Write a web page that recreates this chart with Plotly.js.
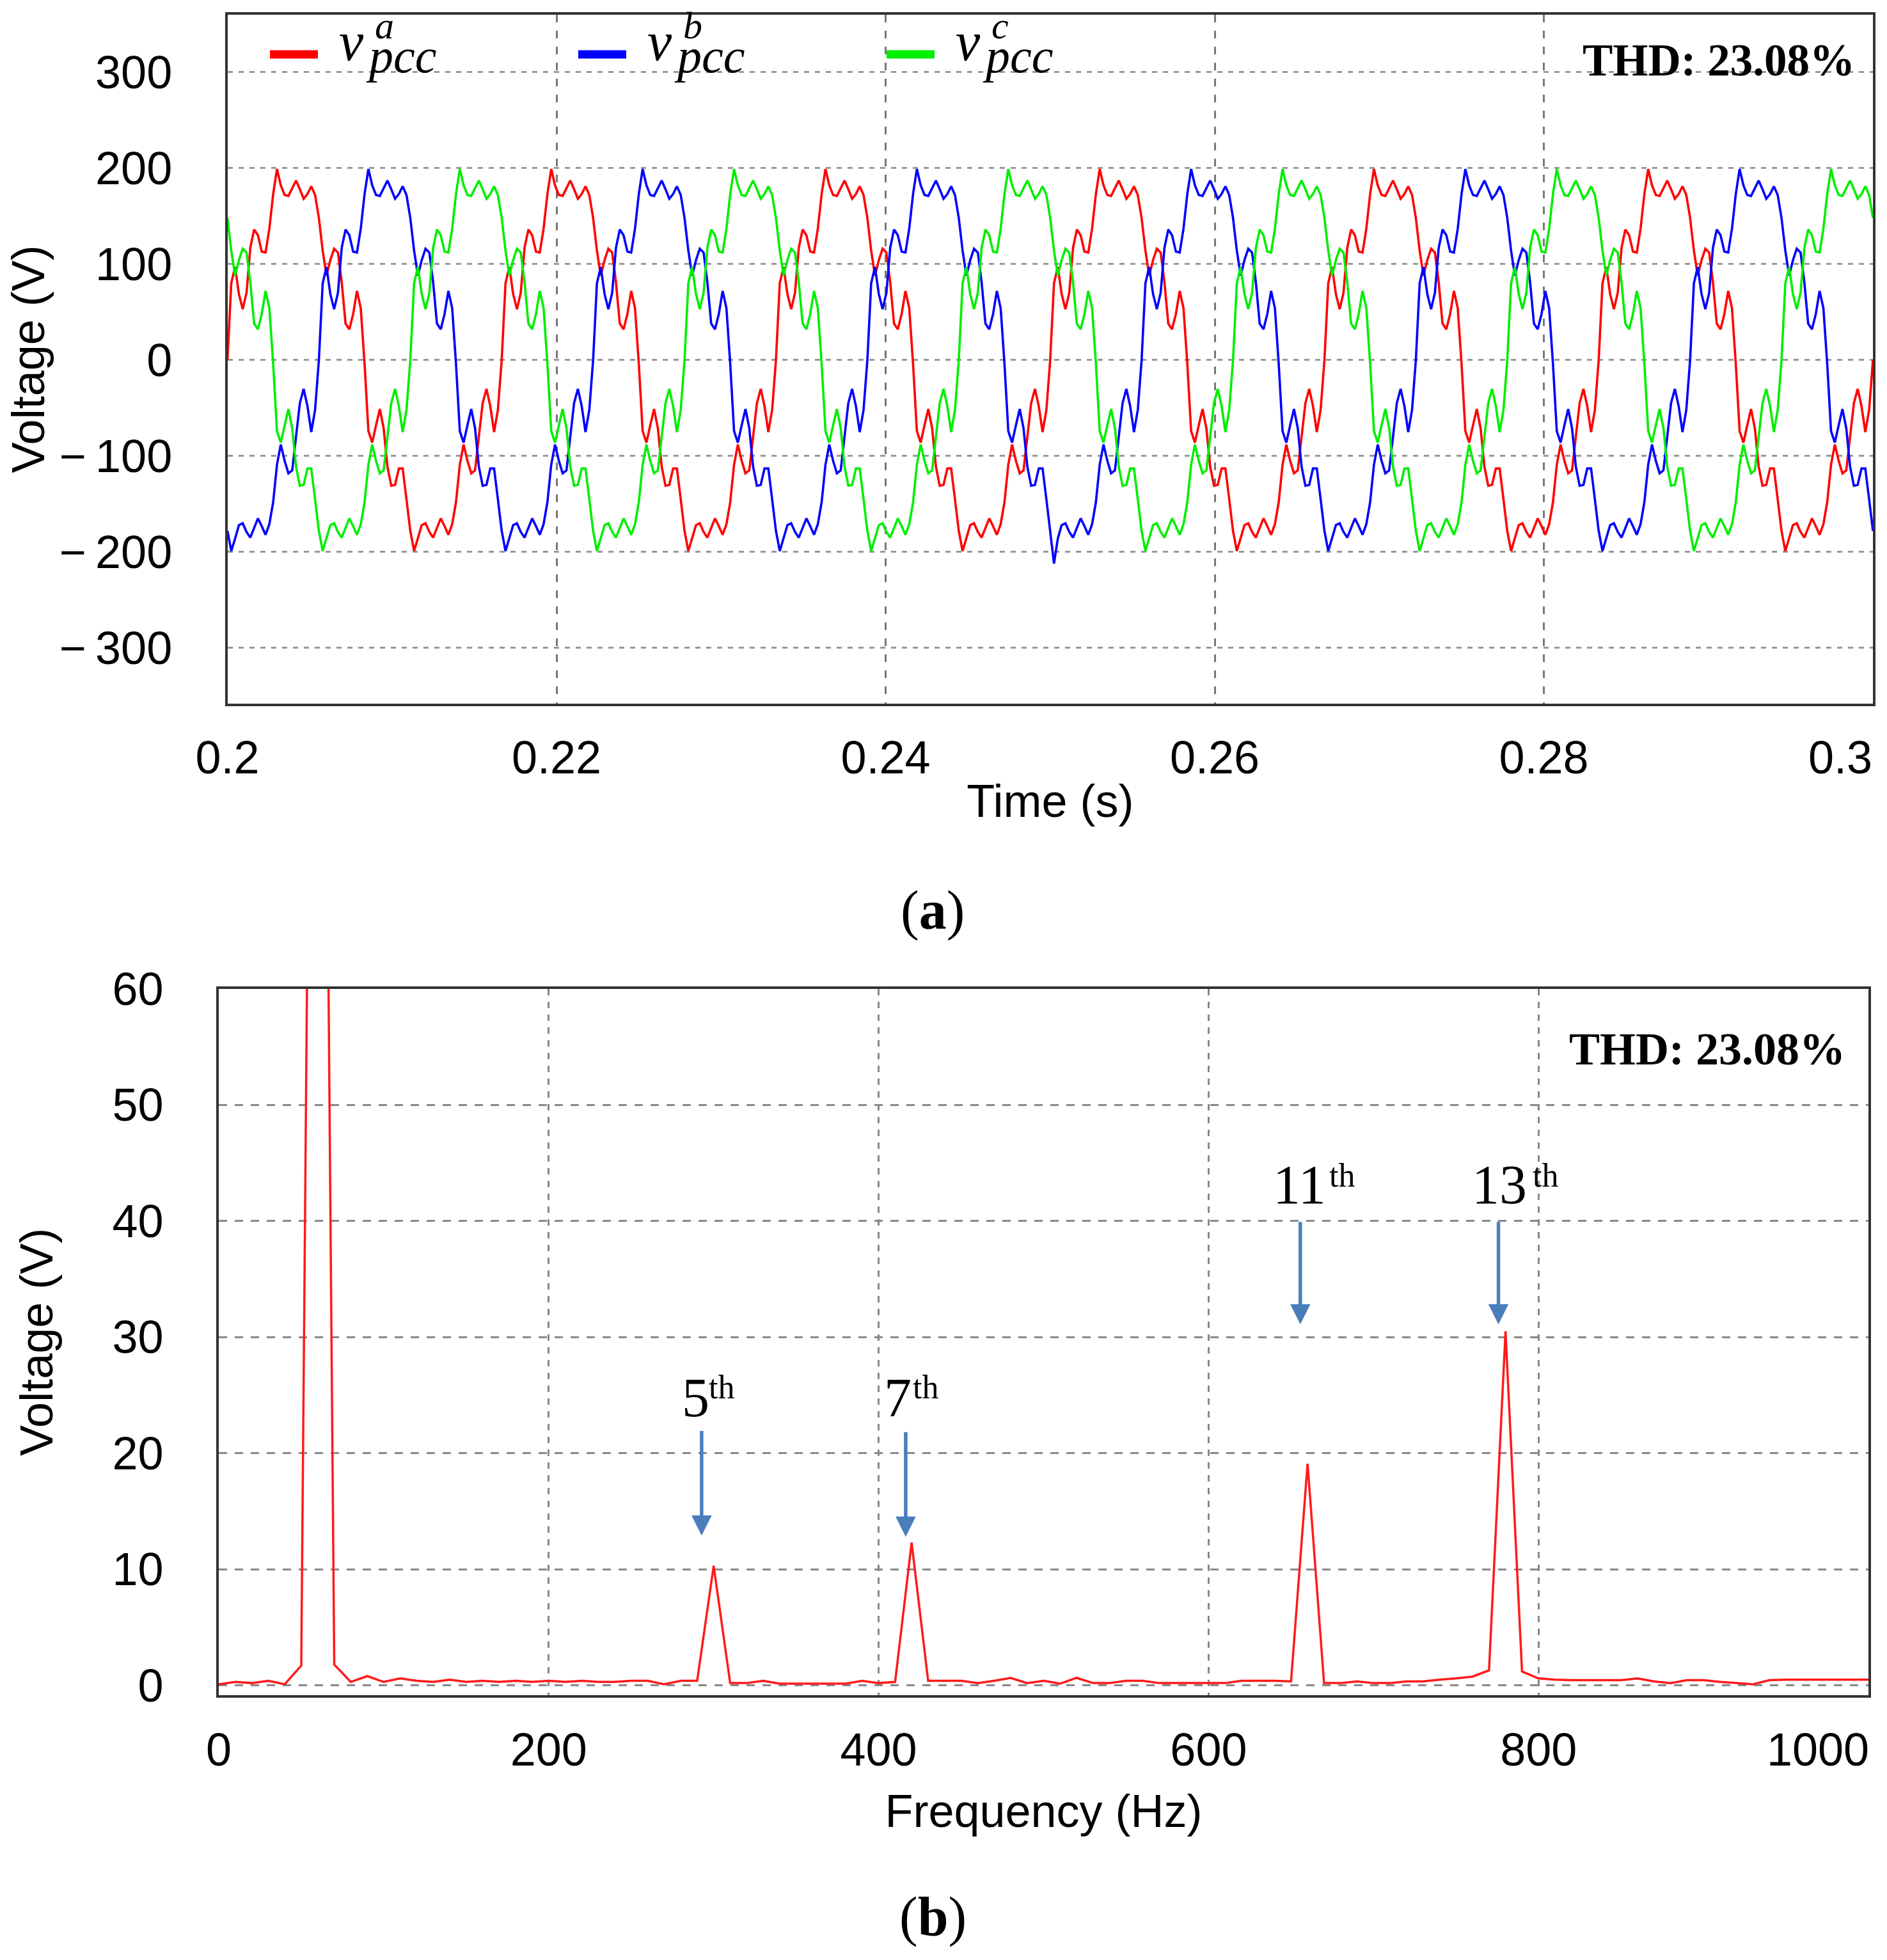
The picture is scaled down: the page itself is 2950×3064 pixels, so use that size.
<!DOCTYPE html>
<html>
<head>
<meta charset="utf-8">
<script src="https://cdn.plot.ly/plotly-3.0.1.min.js"></script>
<style>html,body{margin:0;padding:0;background:#fff}#chart{width:2950px;height:3064px}</style>
</head>
<body>
<div id="chart"></div>
<script>
// ---------------- data ----------------
// (a) PCC phase voltages, sampled every 1/4320 s from t = 0.2 s to 0.3 s
const timeStart = 0.2;
const timeStep = 1 / 4320;
const vpccA = [
0,80,97,69,53,70,117,136,130,113,112,137,173,199,182,172,171,179,187,178,168,173,181,172,148,114,88,104,116,112,81,38,32,48,72,54,-4,-74,-86,-68,-51,-71,-111,-131,-130,-113,-113,-145,-178,-199,-186,-172,-170,-179,-185,-175,-165,-173,-182,-171,-148,-109,-88,-105,-118,-115,-81,-45,-30,-48,-75,-52,
0,80,97,69,53,70,117,136,130,113,112,137,173,199,182,172,171,179,187,178,168,173,181,172,148,114,88,104,116,112,81,38,32,48,72,54,-4,-74,-86,-68,-51,-71,-111,-131,-130,-113,-113,-145,-178,-199,-186,-172,-170,-179,-185,-175,-165,-173,-182,-171,-148,-109,-88,-105,-118,-115,-81,-45,-30,-48,-75,-52,
0,80,97,69,53,70,117,136,130,113,112,137,173,199,182,172,171,179,187,178,168,173,181,172,148,114,88,104,116,112,81,38,32,48,72,54,-4,-74,-86,-68,-51,-71,-111,-131,-130,-113,-113,-145,-178,-199,-186,-172,-170,-179,-185,-175,-165,-173,-182,-171,-148,-109,-88,-105,-118,-115,-81,-45,-30,-48,-75,-52,
0,80,97,69,53,70,117,136,130,113,112,137,173,199,182,172,171,179,187,178,168,173,181,172,148,114,88,104,116,112,81,38,32,48,72,54,-4,-74,-86,-68,-51,-71,-111,-131,-130,-113,-113,-145,-178,-199,-186,-172,-170,-179,-185,-175,-165,-173,-182,-171,-148,-109,-88,-105,-118,-115,-81,-45,-30,-48,-75,-52,
0,80,97,69,53,70,117,136,130,113,112,137,173,199,182,172,171,179,187,178,168,173,181,172,148,114,88,104,116,112,81,38,32,48,72,54,-4,-74,-86,-68,-51,-71,-111,-131,-130,-113,-113,-145,-178,-199,-186,-172,-170,-179,-185,-175,-165,-173,-182,-171,-148,-109,-88,-105,-118,-115,-81,-45,-30,-48,-75,-52,
0,80,97,69,53,70,117,136,130,113,112,137,173,199,182,172,171,179,187,178,168,173,181,172,148,114,88,104,116,112,81,38,32,48,72,54,-4,-74,-86,-68,-51,-71,-111,-131,-130,-113,-113,-145,-178,-199,-186,-172,-170,-179,-185,-175,-165,-173,-182,-171,-148,-109,-88,-105,-118,-115,-81,-45,-30,-48,-75,-52,
0];
const vpccB = [
-178,-199,-186,-172,-170,-179,-185,-175,-165,-173,-182,-171,-148,-109,-88,-105,-118,-115,-81,-45,-30,-48,-75,-52,0,80,97,69,53,70,117,136,130,113,112,137,173,199,182,172,171,179,187,178,168,173,181,172,148,114,88,104,116,112,81,38,32,48,72,54,-4,-74,-86,-68,-51,-71,-111,-131,-130,-113,-113,-145,
-178,-199,-186,-172,-170,-179,-185,-175,-165,-173,-182,-171,-148,-109,-88,-105,-118,-115,-81,-45,-30,-48,-75,-52,0,80,97,69,53,70,117,136,130,113,112,137,173,199,182,172,171,179,187,178,168,173,181,172,148,114,88,104,116,112,81,38,32,48,72,54,-4,-74,-86,-68,-51,-71,-111,-131,-130,-113,-113,-145,
-178,-199,-186,-172,-170,-179,-185,-175,-165,-173,-182,-171,-148,-109,-88,-105,-118,-115,-81,-45,-30,-48,-75,-52,0,80,97,69,53,70,117,136,130,113,112,137,173,199,182,172,171,179,187,178,168,173,181,172,148,114,88,104,116,112,81,38,32,48,72,54,-4,-74,-86,-68,-51,-71,-111,-131,-130,-113,-113,-145,
-178,-212,-186,-172,-170,-179,-185,-175,-165,-173,-182,-171,-148,-109,-88,-105,-118,-115,-81,-45,-30,-48,-75,-52,0,80,97,69,53,70,117,136,130,113,112,137,173,199,182,172,171,179,187,178,168,173,181,172,148,114,88,104,116,112,81,38,32,48,72,54,-4,-74,-86,-68,-51,-71,-111,-131,-130,-113,-113,-145,
-178,-199,-186,-172,-170,-179,-185,-175,-165,-173,-182,-171,-148,-109,-88,-105,-118,-115,-81,-45,-30,-48,-75,-52,0,80,97,69,53,70,117,136,130,113,112,137,173,199,182,172,171,179,187,178,168,173,181,172,148,114,88,104,116,112,81,38,32,48,72,54,-4,-74,-86,-68,-51,-71,-111,-131,-130,-113,-113,-145,
-178,-199,-186,-172,-170,-179,-185,-175,-165,-173,-182,-171,-148,-109,-88,-105,-118,-115,-81,-45,-30,-48,-75,-52,0,80,97,69,53,70,117,136,130,113,112,137,173,199,182,172,171,179,187,178,168,173,181,172,148,114,88,104,116,112,81,38,32,48,72,54,-4,-74,-86,-68,-51,-71,-111,-131,-130,-113,-113,-145,
-178];
const vpccC = [
148,114,88,104,116,112,81,38,32,48,72,54,-4,-74,-86,-68,-51,-71,-111,-131,-130,-113,-113,-145,-178,-199,-186,-172,-170,-179,-185,-175,-165,-173,-182,-171,-148,-109,-88,-105,-118,-115,-81,-45,-30,-48,-75,-52,0,80,97,69,53,70,117,136,130,113,112,137,173,199,182,172,171,179,187,178,168,173,181,172,
148,114,88,104,116,112,81,38,32,48,72,54,-4,-74,-86,-68,-51,-71,-111,-131,-130,-113,-113,-145,-178,-199,-186,-172,-170,-179,-185,-175,-165,-173,-182,-171,-148,-109,-88,-105,-118,-115,-81,-45,-30,-48,-75,-52,0,80,97,69,53,70,117,136,130,113,112,137,173,199,182,172,171,179,187,178,168,173,181,172,
148,114,88,104,116,112,81,38,32,48,72,54,-4,-74,-86,-68,-51,-71,-111,-131,-130,-113,-113,-145,-178,-199,-186,-172,-170,-179,-185,-175,-165,-173,-182,-171,-148,-109,-88,-105,-118,-115,-81,-45,-30,-48,-75,-52,0,80,97,69,53,70,117,136,130,113,112,137,173,199,182,172,171,179,187,178,168,173,181,172,
148,114,88,104,116,112,81,38,32,48,72,54,-4,-74,-86,-68,-51,-71,-111,-131,-130,-113,-113,-145,-178,-199,-186,-172,-170,-179,-185,-175,-165,-173,-182,-171,-148,-109,-88,-105,-118,-115,-81,-45,-30,-48,-75,-52,0,80,97,69,53,70,117,136,130,113,112,137,173,199,182,172,171,179,187,178,168,173,181,172,
148,114,88,104,116,112,81,38,32,48,72,54,-4,-74,-86,-68,-51,-71,-111,-131,-130,-113,-113,-145,-178,-199,-186,-172,-170,-179,-185,-175,-165,-173,-182,-171,-148,-109,-88,-105,-118,-115,-81,-45,-30,-48,-75,-52,0,80,97,69,53,70,117,136,130,113,112,137,173,199,182,172,171,179,187,178,168,173,181,172,
148,114,88,104,116,112,81,38,32,48,72,54,-4,-74,-86,-68,-51,-71,-111,-131,-130,-113,-113,-145,-178,-199,-186,-172,-170,-179,-185,-175,-165,-173,-182,-171,-148,-109,-88,-105,-118,-115,-81,-45,-30,-48,-75,-52,0,80,97,69,53,70,117,136,130,113,112,137,173,199,182,172,171,179,187,178,168,173,181,172,
148];

// (b) spectrum magnitude every 10 Hz from 0 to 1000 Hz
const freqStart = 0;
const freqStep = 10;
const spectrumV = [
0.1,0.3,0.2,0.4,0.1,1.7,170,1.8,0.3,0.8,
0.3,0.6,0.4,0.3,0.5,0.3,0.4,0.3,0.4,0.3,
0.4,0.3,0.4,0.3,0.3,0.4,0.4,0.1,0.4,0.4,
10.3,0.2,0.2,0.4,0.15,0.15,0.15,0.15,0.15,0.4,
0.2,0.3,12.3,0.4,0.4,0.4,0.2,0.4,0.65,0.2,
0.4,0.15,0.65,0.2,0.2,0.4,0.4,0.2,0.2,0.2,
0.2,0.2,0.4,0.4,0.4,0.35,19.1,0.2,0.2,0.35,
0.2,0.2,0.35,0.35,0.5,0.6,0.76,1.3,30.5,1.2,
0.6,0.5,0.45,0.45,0.45,0.45,0.6,0.35,0.2,0.45,
0.45,0.3,0.2,0.1,0.45,0.5,0.5,0.5,0.5,0.5,
0.5];

// labels
const seriesNames = ['a', 'b', 'c'];
const seriesColors = ['#ff0000', '#0000ff', '#00ee00'];
const thdText = 'THD: 23.08%';
const harmonicOrders = ['5', '7', '11', '13'];
const timeTicks = [0.2, 0.22, 0.24, 0.26, 0.28, 0.3];
const timeTickText = ['0.2', '0.22', '0.24', '0.26', '0.28', '0.3'];
const voltTicks = [300, 200, 100, 0, -100, -200, -300];
const voltTickText = ['300', '200', '100', '0', '\u2212\u2009100', '\u2212\u2009200', '\u2212\u2009300'];
const freqTicks = [0, 200, 400, 600, 800, 1000];
const freqTickText = ['0', '200', '400', '600', '800', '1000'];
const specTicks = [0, 10, 20, 30, 40, 50, 60];

// ---------------- layout helpers ----------------
const W = 2950, H = 3064;
const px = v => v / W;
const py = v => 1 - v / H;
const TOP = {l: 355.6, r: 2928, t: 22.7, b: 1100};
const BOT = {l: 342, r: 2921, t: 1545.7, b: 2650};

const sans = 'Liberation Sans, Arial, sans-serif';
const serif = 'Liberation Serif, Times New Roman, serif';
const tickFont = {family: sans, size: 72, color: '#000'};
const titleFont = {family: sans, size: 72, color: '#000'};

const data = [
  {type: 'scatter', mode: 'lines', name: 'v_pcc^a', x0: timeStart, dx: timeStep, y: vpccA,
   line: {color: seriesColors[0], width: 3.6}, xaxis: 'x', yaxis: 'y'},
  {type: 'scatter', mode: 'lines', name: 'v_pcc^b', x0: timeStart, dx: timeStep, y: vpccB,
   line: {color: seriesColors[1], width: 3.6}, xaxis: 'x', yaxis: 'y'},
  {type: 'scatter', mode: 'lines', name: 'v_pcc^c', x0: timeStart, dx: timeStep, y: vpccC,
   line: {color: seriesColors[2], width: 3.6}, xaxis: 'x', yaxis: 'y'},
  {type: 'scatter', mode: 'lines', name: 'spectrum', x0: freqStart, dx: freqStep, y: spectrumV,
   line: {color: '#ff1a1a', width: 3.5}, xaxis: 'x2', yaxis: 'y2'},
  // empty carriers for the overlay axes that hold the right-most tick labels
  {type: 'scatter', mode: 'lines', x: [], y: [], xaxis: 'x3', yaxis: 'y', hoverinfo: 'skip'},
  {type: 'scatter', mode: 'lines', x: [], y: [], xaxis: 'x4', yaxis: 'y2', hoverinfo: 'skip'}
];

const axisFrame = {showline: true, mirror: true, linecolor: '#333', linewidth: 4,
  zeroline: false, ticks: '', ticklabeloverflow: 'allow', showgrid: true, gridwidth: 3};
const edgeAxis = {showline: true, linecolor: 'rgba(0,0,0,0)', linewidth: 4, showgrid: false,
  zeroline: false, ticks: '', ticklabeloverflow: 'allow', tickmode: 'array', tickfont: tickFont, side: 'bottom'};

const layout = {
  width: W, height: H,
  margin: {l: 0, r: 0, t: 0, b: 0},
  paper_bgcolor: '#fff', plot_bgcolor: '#fff',
  showlegend: false,
  xaxis: Object.assign({}, axisFrame, {
    anchor: 'y', domain: [px(TOP.l), px(TOP.r)], range: [0.2, 0.3],
    tickmode: 'array', tickvals: timeTicks.slice(0, -1), ticktext: timeTickText.slice(0, -1), tickfont: tickFont,
    ticklabelstandoff: 19, gridcolor: '#777', griddash: '12px,13px',
    title: {text: 'Time (s)', font: titleFont, standoff: 4}
  }),
  xaxis3: Object.assign({}, edgeAxis, {
    overlaying: 'x', anchor: 'y', range: [0.2, 0.3],
    tickvals: timeTicks.slice(-1), ticktext: timeTickText.slice(-1),
    ticklabelstandoff: 19, ticklabelshift: -51
  }),
  yaxis: Object.assign({}, axisFrame, {
    anchor: 'x', domain: [py(TOP.b), py(TOP.t)], range: [-358, 360],
    tickmode: 'array', tickvals: voltTicks, ticktext: voltTickText, tickfont: tickFont,
    ticklabelstandoff: 68, gridcolor: '#999', griddash: '8px,9px',
    title: {text: 'Voltage (V)', font: titleFont, standoff: 0}
  }),
  xaxis2: Object.assign({}, axisFrame, {
    anchor: 'y2', domain: [px(BOT.l), px(BOT.r)], range: [0, 1000],
    tickmode: 'array', tickvals: freqTicks.slice(0, -1), ticktext: freqTickText.slice(0, -1), tickfont: tickFont,
    ticklabelstandoff: 20, gridcolor: '#888', griddash: '10px,10px',
    title: {text: 'Frequency (Hz)', font: titleFont, standoff: 32}
  }),
  xaxis4: Object.assign({}, edgeAxis, {
    overlaying: 'x2', anchor: 'y2', range: [0, 1000],
    tickvals: freqTicks.slice(-1), ticktext: freqTickText.slice(-1),
    ticklabelstandoff: 20, ticklabelshift: -79
  }),
  yaxis2: Object.assign({}, axisFrame, {
    anchor: 'x2', domain: [py(BOT.b), py(BOT.t)], range: [-0.84, 60],
    tickmode: 'array', tickvals: specTicks, tickfont: tickFont,
    ticklabelstandoff: 68, gridcolor: '#888', griddash: '13px,12px',
    title: {text: 'Voltage (V)', font: titleFont, standoff: 70}
  }),
  shapes: [],
  annotations: []
};

// legend of panel (a): swatches + stacked sub/superscript labels
const legendBars = [422, 904, 1386];
legendBars.forEach((x0, i) => {
  layout.shapes.push({type: 'line', xref: 'paper', yref: 'paper',
    x0: px(x0), x1: px(x0 + 75), y0: py(85), y1: py(85),
    line: {color: seriesColors[i], width: 13}});
  const vx = x0 + 106;
  layout.annotations.push(
    {xref: 'paper', yref: 'paper', x: px(vx), y: py(65), xanchor: 'left', yanchor: 'middle',
     showarrow: false, text: '<i>v</i>', font: {family: serif, size: 86, color: '#000'}},
    {xref: 'paper', yref: 'paper', x: px(vx + 42), y: py(87), xanchor: 'left', yanchor: 'middle',
     showarrow: false, text: '<i>pcc</i>', font: {family: serif, size: 76, color: '#000'}},
    {xref: 'paper', yref: 'paper', x: px(vx + 56), y: py(40), xanchor: 'left', yanchor: 'middle',
     showarrow: false, text: '<i>' + seriesNames[i] + '</i>', font: {family: serif, size: 60, color: '#000'}}
  );
});

// THD labels
layout.annotations.push(
  {xref: 'paper', yref: 'paper', x: px(2902), y: py(94), xanchor: 'right', yanchor: 'middle',
   showarrow: false, text: '<b>' + thdText + '</b>', font: {family: serif, size: 71, color: '#000'}},
  {xref: 'paper', yref: 'paper', x: px(2887), y: py(1640), xanchor: 'right', yanchor: 'middle',
   showarrow: false, text: '<b>' + thdText + '</b>', font: {family: serif, size: 72, color: '#000'}}
);

// harmonic labels + arrows in panel (b)
const labelPos = [ // [digits left px, digits baseline px, th left px, th baseline px]
  [1064, 2216, 1106, 2187],
  [1380, 2216, 1425, 2187],
  [1988, 1883, 2076, 1856],
  [2299, 1883, 2394, 1856]
];
const arrowPos = [ // [x Hz, tail V, tip V]
  [292.7, 22.0, 12.9],
  [416.4, 21.9, 12.8],
  [655.6, 40.0, 31.1],
  [775.7, 40.0, 31.1]
];
harmonicOrders.forEach((h, i) => {
  const [dx, db, tx, tb] = labelPos[i];
  layout.annotations.push(
    {xref: 'paper', yref: 'paper', x: px(dx), y: py(db + 19), xanchor: 'left', yanchor: 'bottom',
     showarrow: false, text: h, font: {family: serif, size: 86, color: '#000'}},
    {xref: 'paper', yref: 'paper', x: px(tx), y: py(tb + 12), xanchor: 'left', yanchor: 'bottom',
     showarrow: false, text: 'th', font: {family: serif, size: 52, color: '#000'}}
  );
  const [ax, tail, tip] = arrowPos[i];
  layout.annotations.push({xref: 'x2', yref: 'y2', axref: 'x2', ayref: 'y2',
    x: ax, y: tip, ax: ax, ay: tail, text: '', showarrow: true,
    arrowhead: 2, arrowsize: 1.15, arrowwidth: 5.5, arrowcolor: '#4a7ebb', standoff: 0});
});

// panel captions
layout.annotations.push(
  {xref: 'paper', yref: 'paper', x: px(1458), y: py(1423), xanchor: 'center', yanchor: 'middle',
   showarrow: false, text: '(<b>a</b>)', font: {family: serif, size: 86, color: '#000'}},
  {xref: 'paper', yref: 'paper', x: px(1458), y: py(2996), xanchor: 'center', yanchor: 'middle',
   showarrow: false, text: '(<b>b</b>)', font: {family: serif, size: 86, color: '#000'}}
);

Plotly.newPlot('chart', data, layout, {staticPlot: true, displayModeBar: false});
</script>
</body>
</html>
